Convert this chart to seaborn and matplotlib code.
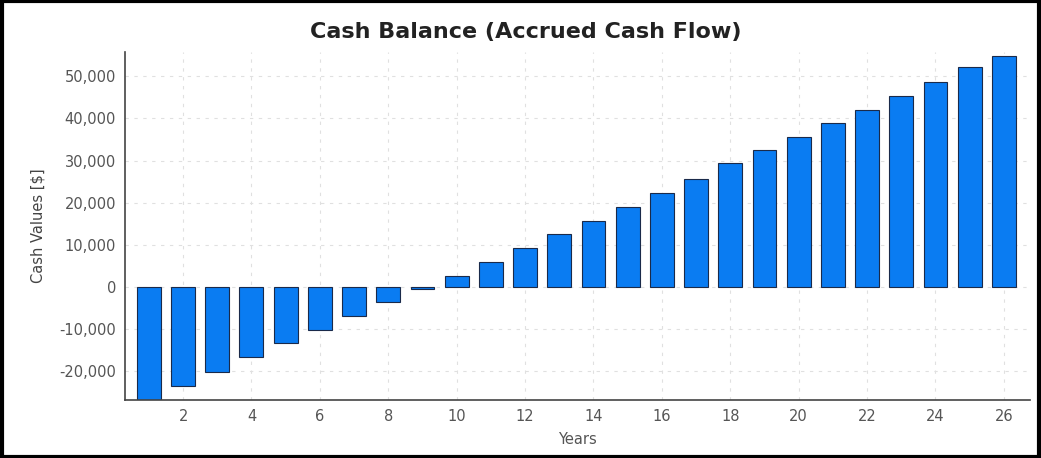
import pandas as pd
import matplotlib.pyplot as plt
import seaborn as sns
from matplotlib.patches import Rectangle
from matplotlib.ticker import FuncFormatter

years = list(range(1, 27))
cash = [-26800, -23600, -20200, -16700, -13300, -10200, -6900, -3600, -400,
        2700, 6000, 9300, 12500, 15700, 19000, 22200, 25600, 29300, 32500,
        35600, 38800, 42100, 45300, 48700, 52200, 54800]
x_ticks = list(range(2, 27, 2))
y_ticks = list(range(-20000, 50001, 10000))

df = pd.DataFrame({'Years': years, 'Cash': cash})

sns.set_style('white')
plt.rcParams['font.family'] = ['DejaVu Sans']

fig = plt.figure(figsize=(10.41, 4.58), dpi=100)
ax = fig.add_axes([0.120, 0.127, 0.869, 0.759])

sns.barplot(data=df, x='Years', y='Cash', native_scale=True, width=0.7,
            color='#0a7cf2', saturation=1, edgecolor='#1a2a4a', linewidth=0.8, ax=ax)

# faint dashed grid like the original
for yt in y_ticks:
    ax.axhline(yt, color='#e0e0e0', linestyle=(0, (3, 5)), linewidth=0.8, zorder=0)
for xt in x_ticks:
    ax.axvline(xt, color='#e0e0e0', linestyle=(0, (3, 5)), linewidth=0.8, zorder=0)

ax.set_xlim(0.3, 26.75)
ax.set_ylim(-26800, 55700)
ax.set_xticks(x_ticks)
ax.set_yticks(y_ticks)
ax.yaxis.set_major_formatter(FuncFormatter(lambda v, p: f'{int(v):,}'))
ax.tick_params(axis='both', colors='#555555', labelsize=10.5, length=3, direction='out')
ax.tick_params(axis='both', color='#444444')

for side in ['top', 'right']:
    ax.spines[side].set_visible(False)
for side in ['left', 'bottom']:
    ax.spines[side].set_color('#444444')
    ax.spines[side].set_linewidth(1.2)

ax.set_xlabel('Years', fontsize=10.5, color='#555555', labelpad=6)
ax.set_ylabel('Cash Values [$]', fontsize=10.5, color='#444444', labelpad=10)
fig.suptitle('Cash Balance (Accrued Cash Flow)', x=0.505, y=0.93, va='center',
             fontsize=16, fontweight='bold', color='#222222')

# black frame around the whole picture
fig.patches.append(Rectangle((0.0015, 0.003), 0.997, 0.994, transform=fig.transFigure,
                             fill=False, edgecolor='black', linewidth=3))

plt.savefig('out.png', dpi=100)
